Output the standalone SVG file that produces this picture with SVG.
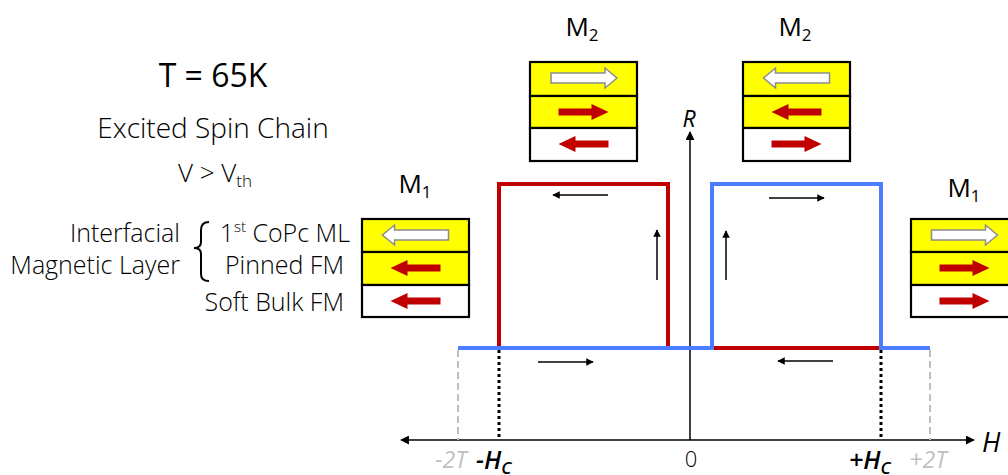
<svg xmlns="http://www.w3.org/2000/svg" width="1008" height="475" viewBox="0 0 1008 475">
<style>
text{font-family:"Open Sans","Noto Sans","Liberation Sans",sans-serif;fill:#000}
.lt{font-weight:300}
.box{stroke:#000;stroke-width:2.2}
.y{fill:#FFFF00}
.w{fill:#fff}
.loopR{fill:none;stroke:#C00000;stroke-width:4}
.loopB{fill:none;stroke:#4A7DFF;stroke-width:4}
.sa{stroke:#000;stroke-width:1.5;fill:none;marker-end:url(#sh)}
.ax{stroke:#000;stroke-width:1.5;fill:none;marker-end:url(#ah)}
.dot{stroke:#000;stroke-width:3;stroke-dasharray:3 3}
.gd{stroke:#BFBFBF;stroke-width:2;stroke-dasharray:7 4}
.g{fill:#BFBFBF}
</style>
<defs>
<marker id="sh" viewBox="0 0 10 10" refX="9" refY="5" markerWidth="5" markerHeight="5" orient="auto" markerUnits="strokeWidth"><path d="M0,0 L10,5 L0,10 z" fill="#000"/></marker>
<marker id="ah" viewBox="0 0 10 10" refX="9" refY="5" markerWidth="6" markerHeight="6" orient="auto" markerUnits="strokeWidth"><path d="M0,0 L10,5 L0,10 z" fill="#000"/></marker>
<polygon id="ra" points="-25,-3.5 8,-3.5 8,-8 25,0 8,8 8,3.5 -25,3.5" fill="#C00000"/>
<polygon id="wa" points="-33,-5 21,-5 21,-10 33,0 21,10 21,5 -33,5" fill="#fff" stroke="#8C8C8C" stroke-width="1.5"/>
</defs>

<g id="title">
<text x="213" y="87" font-size="32" text-anchor="middle">T = 65K</text>
<text class="lt" x="213" y="138" font-size="28" text-anchor="middle">Excited Spin Chain</text>
<text class="lt" x="215" y="182" font-size="26" text-anchor="middle">V &gt; V<tspan font-size="17" dy="5">th</tspan></text>
</g>

<g id="legend">
<text class="lt" x="180" y="242" font-size="25" text-anchor="end">Interfacial</text>
<text class="lt" x="180" y="274" font-size="25" text-anchor="end">Magnetic Layer</text>
<path d="M209,222 Q201,222 201,230 L201,242 Q201,248 194,248 Q201,248 201,254 L201,274 Q201,281 209,281" fill="none" stroke="#000" stroke-width="2"/>
<text class="lt" x="350" y="242" font-size="25" text-anchor="end">1<tspan font-size="15" dy="-10">st</tspan><tspan dy="10"> CoPc ML</tspan></text>
<text class="lt" x="344" y="274" font-size="25" text-anchor="end">Pinned FM</text>
<text class="lt" x="344" y="311" font-size="25" text-anchor="end">Soft Bulk FM</text>
</g>

<g id="M1-left">
<text x="415" y="193" font-size="26" text-anchor="middle">M<tspan font-size="17" dy="5">1</tspan></text>
<rect class="box y" x="362" y="219" width="107" height="33"/>
<rect class="box y" x="362" y="252" width="107" height="33"/>
<rect class="box w" x="362" y="285" width="107" height="32"/>
<use href="#wa" transform="translate(415.5,235) scale(-1,1)"/>
<use href="#ra" transform="translate(415.5,268) scale(-1,1)"/>
<use href="#ra" transform="translate(415.5,301) scale(-1,1)"/>
</g>

<g id="M2-left">
<text x="582" y="36" font-size="26" text-anchor="middle">M<tspan font-size="17" dy="5">2</tspan></text>
<rect class="box y" x="530" y="62" width="107" height="34"/>
<rect class="box y" x="530" y="96" width="107" height="32"/>
<rect class="box w" x="530" y="128" width="107" height="33"/>
<use href="#wa" transform="translate(584,78)"/>
<use href="#ra" transform="translate(583.5,112)"/>
<use href="#ra" transform="translate(583.5,144) scale(-1,1)"/>
</g>

<g id="M2-right">
<text x="795" y="36" font-size="26" text-anchor="middle">M<tspan font-size="17" dy="5">2</tspan></text>
<rect class="box y" x="743" y="62" width="107" height="34"/>
<rect class="box y" x="743" y="96" width="107" height="32"/>
<rect class="box w" x="743" y="128" width="107" height="33"/>
<use href="#wa" transform="translate(796.5,78) scale(-1,1)"/>
<use href="#ra" transform="translate(796.5,112) scale(-1,1)"/>
<use href="#ra" transform="translate(796.5,144)"/>
</g>

<g id="M1-right">
<text x="964" y="197" font-size="26" text-anchor="middle">M<tspan font-size="17" dy="5">1</tspan></text>
<rect class="box y" x="911" y="219" width="107" height="33"/>
<rect class="box y" x="911" y="252" width="107" height="33"/>
<rect class="box w" x="911" y="285" width="107" height="32"/>
<use href="#wa" transform="translate(964.5,235)"/>
<use href="#ra" transform="translate(964.5,268)"/>
<use href="#ra" transform="translate(964.5,301)"/>
</g>

<g id="axes">
<line class="ax" x1="690" y1="440" x2="690" y2="132"/>
<line class="ax" x1="690" y1="440" x2="974" y2="440"/>
<line class="ax" x1="690" y1="440" x2="401" y2="440"/>
<text x="689" y="127" font-size="23" font-style="italic" text-anchor="middle">R</text>
<text x="982" y="452" font-size="27" font-style="italic">H</text>
<text class="lt" x="691" y="467" font-size="22" text-anchor="middle">0</text>
</g>

<g id="connectors">
<line class="gd" x1="458" y1="350" x2="458" y2="440"/>
<line class="gd" x1="930" y1="350" x2="930" y2="440"/>
<line class="dot" x1="499" y1="350" x2="499" y2="440"/>
<line class="dot" x1="881" y1="350" x2="881" y2="440"/>
<path class="loopR" d="M499,348 V184 H668 V348"/>
<path class="loopR" d="M712,348 H881"/>
<path class="loopB" d="M458,348 H712 V184 H881 V348 H930"/>
<line class="sa" x1="608" y1="195" x2="553" y2="195"/>
<line class="sa" x1="657" y1="280" x2="657" y2="230"/>
<line class="sa" x1="538" y1="362" x2="593" y2="362"/>
<line class="sa" x1="769" y1="198" x2="824" y2="198"/>
<line class="sa" x1="726" y1="280" x2="726" y2="231"/>
<line class="sa" x1="833" y1="361" x2="778" y2="361"/>
</g>

<g id="ticks">
<text class="g" x="451" y="468" font-size="23" font-style="italic" text-anchor="middle">-2T</text>
<text x="476" y="469" font-size="25" font-style="italic" font-weight="600">-H<tspan font-size="17" dy="5">C</tspan></text>
<text x="849" y="469" font-size="25" font-style="italic" font-weight="600">+H<tspan font-size="17" dy="5">C</tspan></text>
<text class="g" x="928" y="468" font-size="23" font-style="italic" text-anchor="middle">+2T</text>
</g>
</svg>
